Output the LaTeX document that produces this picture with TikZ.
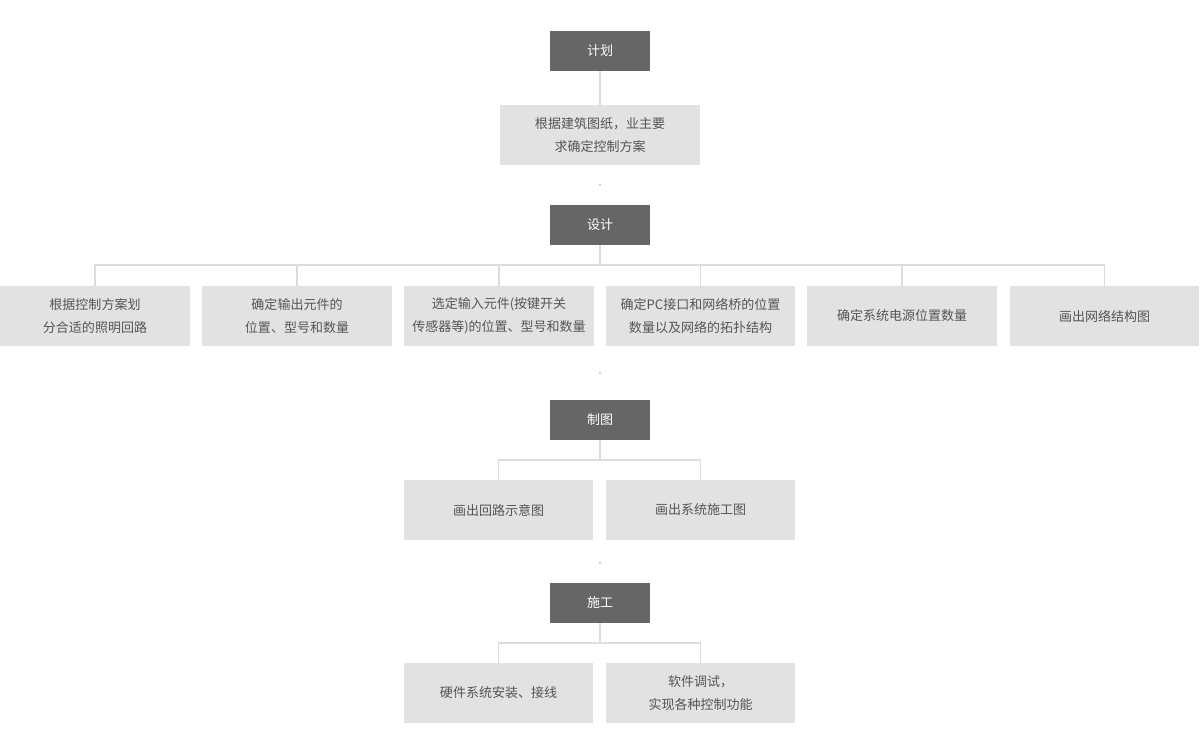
\documentclass[tikz,border=0pt]{standalone}
\usepackage{fontspec}
\setmainfont{Noto Sans CJK SC}
\usepackage{tikz}
\usetikzlibrary{positioning}
\definecolor{boxgray}{HTML}{E2E2E2}
\definecolor{headgray}{HTML}{666666}
\definecolor{txtgray}{HTML}{555555}
\definecolor{linegray}{HTML}{DDDDDD}
\tikzset{
  head/.style={fill=headgray, text=white, minimum width=2cm, minimum height=0.8cm, inner sep=0pt, font=\fontsize{7.4}{9}\selectfont},
  step box/.style={fill=boxgray, text=txtgray, minimum width=3.8cm, minimum height=1.2cm, inner sep=0pt, align=center, font=\fontsize{7.4}{13}\selectfont},
  link/.style={draw=linegray, line width=0.6pt},
  chev/.style={draw=gray!45, line width=1.1pt}
}
\newcommand{\chevron}[1]{%
  \draw[chev] ($(#1)+(-0.12,0.1)$) -- ++(0.12,-0.11) -- ++(0.12,0.11);
  \draw[chev] ($(#1)+(-0.12,-0.04)$) -- ++(0.12,-0.11) -- ++(0.12,0.11);
}
\usetikzlibrary{calc}
\begin{document}
\begin{tikzpicture}[x=0.02cm, y=-0.02cm]
\useasboundingbox (0,0) rectangle (1200,746);

% stage 1
\node[head] (plan) at (600,51) {计划};
\node[step box, minimum width=4cm] (plan1) at (600,135) {根据建筑图纸，业主要\\求确定控制方案};
\draw[link] (plan) -- (plan1);
\coordinate (c1) at (600,185);
\chevron{c1}

% stage 2
\node[head] (design) at (600,225) {设计};
\node[step box] (d1) at (95,316) {根据控制方案划\\分合适的照明回路};
\node[step box] (d2) at (297,316) {确定输出元件的\\位置、型号和数量};
\node[step box] (d3) at (499,316) {选定输入元件(按键开关\\传感器等)的位置、型号和数量};
\node[step box] (d4) at (700.5,316) {确定PC接口和网络桥的位置\\数量以及网络的拓扑结构};
\node[step box] (d5) at (902,316) {确定系统电源位置数量};
\node[step box] (d6) at (1104.5,316) {画出网络结构图};
\draw[link] (design.south) -- (600,265);
\foreach \n in {d1,d2,d3,d4,d5,d6}{
  \draw[link] (\n.north) |- (design.south |- 0,265);
}
\coordinate (c2) at (600,373);
\chevron{c2}

% stage 3
\node[head] (draft) at (600,420) {制图};
\node[step box] (r1) at (498.5,510) {画出回路示意图};
\node[step box] (r2) at (700.5,510) {画出系统施工图};
\draw[link] (draft.south) -- (600,460);
\draw[link] (r1.north) |- (r2.north |- 0,460) -- (r2.north);
\coordinate (c3) at (600,563);
\chevron{c3}

% stage 4
\node[head] (build) at (600,603) {施工};
\node[step box] (b1) at (498.5,693) {硬件系统安装、接线};
\node[step box] (b2) at (700.5,693) {软件调试，\\实现各种控制功能};
\draw[link] (build.south) -- (600,643);
\draw[link] (b1.north) |- (b2.north |- 0,643) -- (b2.north);
\end{tikzpicture}
\end{document}
